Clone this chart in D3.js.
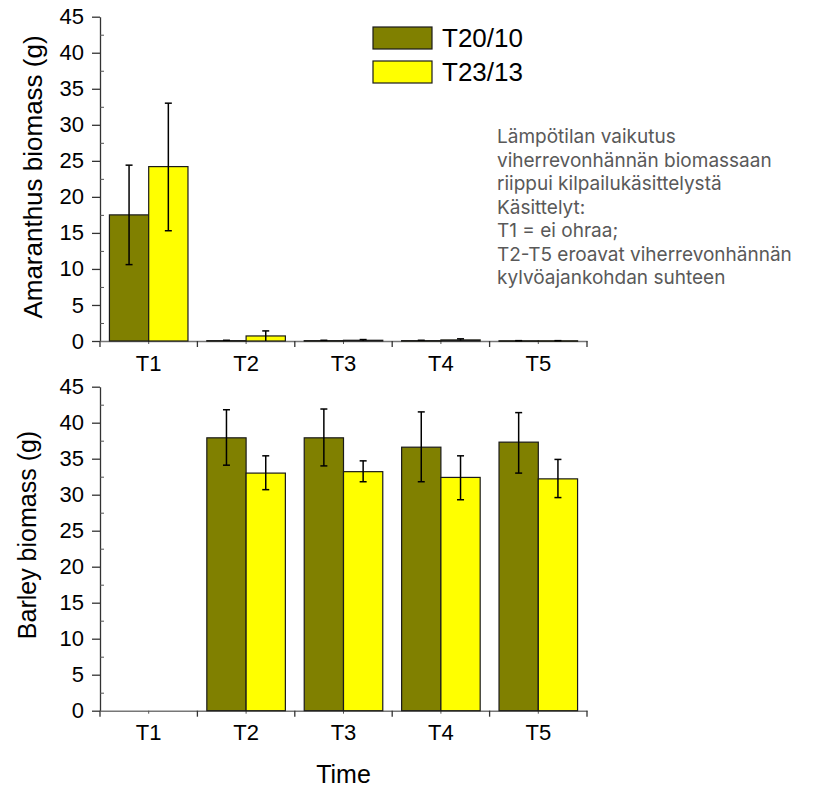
<!DOCTYPE html>
<html>
<head>
<meta charset="utf-8">
<script src="https://cdn.jsdelivr.net/npm/d3@7"></script>
<style>
  html, body { margin: 0; padding: 0; background: #fff; }
  svg text { font-family: "Liberation Sans", Arial, sans-serif; fill: #000; }
</style>
</head>
<body>
<svg id="chart" width="819" height="789"></svg>
<script>
// ---------- data ----------
const categories = ["T1", "T2", "T3", "T4", "T5"];
const seriesNames = ["T20/10", "T23/13"];
const seriesColors = ["#808000", "#FFFF00"];

// Amaranthus biomass (g): means and error bar bounds
const amaT20 = [17.5, 0.05, 0.05, 0.05, 0.03];
const amaT23 = [24.2, 0.7, 0.1, 0.15, 0.03];
const amaT20Low = [10.6, 0.0, 0.0, 0.0, 0.0];
const amaT20High = [24.4, 0.1, 0.1, 0.1, 0.05];
const amaT23Low = [15.3, 0.0, 0.0, 0.05, 0.0];
const amaT23High = [33.0, 1.4, 0.2, 0.3, 0.05];

// Barley biomass (g)
const barT20 = [0, 37.9, 37.9, 36.6, 37.3];
const barT23 = [0, 33.0, 33.2, 32.4, 32.2];
const barT20Low = [0, 34.1, 34.0, 31.8, 33.0];
const barT20High = [0, 41.8, 41.9, 41.5, 41.4];
const barT23Low = [0, 30.7, 31.8, 29.3, 29.6];
const barT23High = [0, 35.4, 34.7, 35.4, 34.9];

const yTicks = [0, 5, 10, 15, 20, 25, 30, 35, 40, 45];
const yMinorTicks = [2.5, 7.5, 12.5, 17.5, 22.5, 27.5, 32.5, 37.5, 42.5];

const noteLines = [
  "Lämpötilan vaikutus",
  "viherrevonhännän biomassaan",
  "riippui kilpailukäsittelystä",
  "Käsittelyt:",
  "T1 = ei ohraa;",
  "T2-T5 eroavat viherrevonhännän",
  "kylvöajankohdan suhteen"
];

// ---------- layout ----------
const svg = d3.select("#chart");
const xLeft = 100, xRight = 587;

const x = d3.scaleBand().domain(categories).range([xLeft, xRight]).paddingInner(0).paddingOuter(0);
const xSub = d3.scaleBand().domain(seriesNames).range([0, x.bandwidth()]).paddingInner(0).paddingOuter(0.24);

function panel(cfg) {
  const y = d3.scaleLinear().domain([0, 45]).range([cfg.bottom, cfg.top]);
  const g = svg.append("g");

  const data = [];
  categories.forEach((c, i) => {
    cfg.series.forEach((s, k) => {
      data.push({ cat: c, name: seriesNames[k], color: seriesColors[k],
        v: s.v[i], lo: s.lo[i], hi: s.hi[i] });
    });
  });
  const shown = data.filter(d => d.v > 0);

  const yAxis = g.append("g").attr("transform", `translate(${xLeft},0)`)
    .call(d3.axisLeft(y).tickValues(yTicks).tickSize(8).tickSizeOuter(0).tickPadding(8));
  yAxis.selectAll("text").style("font-size", "22px").attr("fill", "#000");
  yAxis.select(".domain").attr("stroke", "#333").attr("stroke-width", 1.3);
  yAxis.selectAll(".tick line").attr("stroke", "#333").attr("stroke-width", 1.3);

  const yMinor = g.append("g").attr("transform", `translate(${xLeft},0)`)
    .call(d3.axisRight(y).tickValues(yMinorTicks).tickSize(4).tickFormat(""));
  yMinor.select(".domain").remove();
  yMinor.selectAll(".tick line").attr("stroke", "#555").attr("stroke-width", 1);

  const xAxis = g.append("g").attr("transform", `translate(0,${cfg.bottom})`)
    .call(d3.axisBottom(x).tickSize(3).tickSizeOuter(0).tickPadding(11));
  xAxis.selectAll("text").style("font-size", "22px").attr("fill", "#000");
  xAxis.select(".domain").attr("stroke", "#777").attr("stroke-width", 1.5);
  xAxis.selectAll(".tick line").attr("stroke", "#555");

  const bounds = [x(categories[0])].concat(categories.map(c => x(c) + x.bandwidth()));
  g.append("g").selectAll("line").data(bounds).join("line")
    .attr("x1", d => d).attr("x2", d => d)
    .attr("y1", cfg.bottom).attr("y2", cfg.bottom + 6)
    .attr("stroke", "#333").attr("stroke-width", 1.3);

  g.append("g").selectAll("rect").data(shown).join("rect")
    .attr("x", d => x(d.cat) + xSub(d.name))
    .attr("width", xSub.bandwidth())
    .attr("y", d => y(d.v))
    .attr("height", d => Math.max(0.5, y(0) - y(d.v)))
    .attr("fill", d => d.color)
    .attr("stroke", "#1a1a1a").attr("stroke-width", 1.2);

  const eg = g.append("g").attr("stroke", "#000").attr("stroke-width", 1.5);
  shown.filter(d => d.hi > d.v).forEach(d => {
    const cx = x(d.cat) + xSub(d.name) + xSub.bandwidth() / 2;
    eg.append("line").attr("x1", cx).attr("x2", cx).attr("y1", y(d.hi)).attr("y2", y(d.lo));
    eg.append("line").attr("x1", cx - 3.5).attr("x2", cx + 3.5).attr("y1", y(d.hi)).attr("y2", y(d.hi));
    if (d.lo > 0.2) eg.append("line").attr("x1", cx - 3.5).attr("x2", cx + 3.5).attr("y1", y(d.lo)).attr("y2", y(d.lo));
  });

  g.append("text")
    .attr("transform", `translate(${cfg.titleX},${cfg.titleY}) rotate(-90)`)
    .attr("text-anchor", "middle")
    .style("font-size", cfg.titleSize + "px")
    .text(cfg.title);
  return y;
}

panel({
  top: 16.7, bottom: 341,
  series: [
    { v: amaT20, lo: amaT20Low, hi: amaT20High },
    { v: amaT23, lo: amaT23Low, hi: amaT23High }
  ],
  title: "Amaranthus biomass (g)", titleX: 42, titleY: 177, titleSize: 26
});

panel({
  top: 386.7, bottom: 710.7,
  series: [
    { v: barT20, lo: barT20Low, hi: barT20High },
    { v: barT23, lo: barT23Low, hi: barT23High }
  ],
  title: "Barley biomass (g)", titleX: 36, titleY: 535, titleSize: 25
});

svg.append("text")
  .attr("x", (xLeft + xRight) / 2).attr("y", 783)
  .attr("text-anchor", "middle")
  .style("font-size", "25px")
  .text("Time");

const leg = svg.append("g");
seriesNames.forEach((n, i) => {
  const yy = 27 + i * 34;
  leg.append("rect").attr("x", 373).attr("y", yy).attr("width", 59).attr("height", 22)
    .attr("fill", seriesColors[i]).attr("stroke", "#1a1a1a").attr("stroke-width", 1.2);
  leg.append("text").attr("x", 442).attr("y", yy + 11).attr("dy", "0.36em")
    .style("font-size", "26px").text(n);
});

const note = svg.append("text")
  .attr("x", 497).attr("y", 143)
  .style("font-family", "Inter, 'Open Sans', sans-serif")
  .style("font-size", "19px")
  .style("fill", "#595959");
note.selectAll("tspan").data(noteLines).join("tspan")
  .attr("x", 497).attr("dy", (d, i) => i === 0 ? 0 : 23.5)
  .text(d => d);
</script>
</body>
</html>
